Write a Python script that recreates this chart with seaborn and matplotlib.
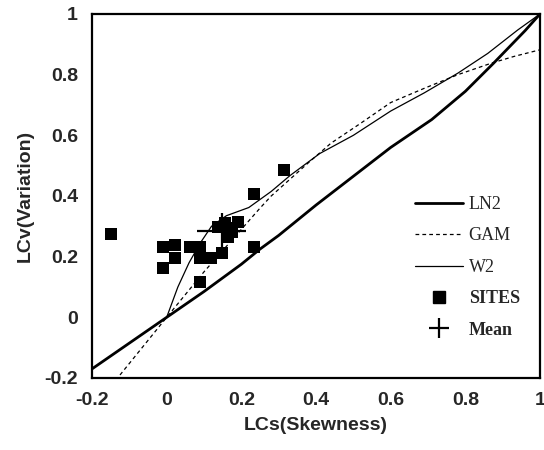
import numpy as np
import pandas as pd
import matplotlib
matplotlib.use("Agg")
import matplotlib.pyplot as plt
import seaborn as sns
from matplotlib.lines import Line2D

# ---- data ----
ln2_x = [-0.2, 0.0, 0.1, 0.2, 0.25, 0.3, 0.4, 0.5, 0.6, 0.71, 0.8, 0.875, 0.96, 1.0]
ln2_y = [-0.17, 0.0, 0.085, 0.175, 0.225, 0.27, 0.37, 0.465, 0.56, 0.652, 0.745, 0.837, 0.945, 1.0]

gam_x = [-0.125, 0.0, 0.1, 0.15, 0.2, 0.25, 0.28, 0.33, 0.38, 0.44, 0.52, 0.6, 0.69, 0.78, 0.87, 0.93, 1.0]
gam_y = [-0.19, 0.0, 0.15, 0.22, 0.29, 0.36, 0.40, 0.455, 0.51, 0.574, 0.64, 0.708, 0.755, 0.80, 0.838, 0.86, 0.882]

w2_x = [0.0, 0.03, 0.06, 0.09, 0.12, 0.16, 0.22, 0.28, 0.33, 0.41, 0.5, 0.6, 0.69, 0.78, 0.86, 0.94, 1.0]
w2_y = [0.0, 0.1, 0.18, 0.245, 0.3, 0.335, 0.362, 0.415, 0.467, 0.54, 0.60, 0.68, 0.74, 0.805, 0.87, 0.947, 1.0]

sites_x = [-0.15, 0.315, 0.235, -0.009, 0.022, 0.022, -0.009, 0.062, 0.089, 0.089,
           0.12, 0.147, 0.089, 0.234, 0.138, 0.165, 0.192, 0.165, 0.155, 0.175]
sites_y = [0.275, 0.485, 0.407, 0.231, 0.238, 0.195, 0.162, 0.231, 0.231, 0.195,
           0.195, 0.211, 0.117, 0.233, 0.299, 0.293, 0.315, 0.266, 0.31, 0.28]

mean_x = [0.147]
mean_y = [0.285]
mean_xerr = [0.065]
mean_yerr = [0.06]

x_ticks = [-0.2, 0, 0.2, 0.4, 0.6, 0.8, 1]
y_ticks = [-0.2, 0, 0.2, 0.4, 0.6, 0.8, 1]
tick_labels = ["-0.2", "0", "0.2", "0.4", "0.6", "0.8", "1"]

# ---- figure ----
sns.set_style("white")
plt.rcParams['font.family'] = ['Liberation Sans', 'DejaVu Sans']

fig = plt.figure(figsize=(5.44, 4.5), dpi=100)
ax = fig.add_axes([92/544, 72/450, 448/544, 364/450])

df_ln2 = pd.DataFrame({"x": ln2_x, "y": ln2_y})
df_gam = pd.DataFrame({"x": gam_x, "y": gam_y})
df_w2 = pd.DataFrame({"x": w2_x, "y": w2_y})
df_sites = pd.DataFrame({"x": sites_x, "y": sites_y})

sns.lineplot(data=df_ln2, x="x", y="y", ax=ax, color="black", linewidth=2.0,
             sort=False, estimator=None)
sns.lineplot(data=df_gam, x="x", y="y", ax=ax, color="black", linewidth=0.9,
             sort=False, estimator=None, dashes=False)
ax.lines[-1].set_linestyle((0, (3, 2.5)))
sns.lineplot(data=df_w2, x="x", y="y", ax=ax, color="black", linewidth=0.9,
             sort=False, estimator=None)
sns.scatterplot(data=df_sites, x="x", y="y", ax=ax, marker="s", s=70,
                color="black", edgecolor="black", linewidth=0, zorder=3)
ax.errorbar(mean_x, mean_y, xerr=mean_xerr, yerr=mean_yerr, fmt="none",
            ecolor="black", elinewidth=1.6, capsize=0, zorder=4)

ax.set_xlim(-0.2, 1.0)
ax.set_ylim(-0.2, 1.0)
ax.set_xticks(x_ticks)
ax.set_yticks(y_ticks)
ax.set_xticklabels(tick_labels, fontsize=14, fontweight="bold")
ax.set_yticklabels(tick_labels, fontsize=14, fontweight="bold")
ax.tick_params(direction="out", length=6, width=1.3, color="black", pad=4)
ax.set_xlabel("LCs(Skewness)", fontsize=14, fontweight="bold", labelpad=6)
ax.set_ylabel("LCv(Variation)", fontsize=14, fontweight="bold", labelpad=8)
for sp in ax.spines.values():
    sp.set_color("black")
    sp.set_linewidth(1.6)

handles = [
    Line2D([], [], color="black", linewidth=2.0),
    Line2D([], [], color="black", linewidth=0.9, linestyle=(0, (3, 2.5))),
    Line2D([], [], color="black", linewidth=0.9),
    Line2D([], [], color="black", marker="s", linestyle="none", markersize=8),
    Line2D([], [], color="black", marker="+", linestyle="none", markersize=14, markeredgewidth=1.6),
]
labels = ["LN2", "GAM", "W2", "SITES", "Mean"]
leg = ax.legend(handles, labels, loc="upper left", bbox_to_anchor=(0.72, 0.50),
                frameon=False, borderaxespad=0, borderpad=0, handlelength=2.7,
                handletextpad=0.3, labelspacing=0.8, numpoints=1,
                prop={"family": ["Liberation Serif", "DejaVu Serif"], "size": 13})
for t in leg.get_texts()[3:]:
    t.set_fontweight("bold")

fig.savefig("out.png", dpi=100)
